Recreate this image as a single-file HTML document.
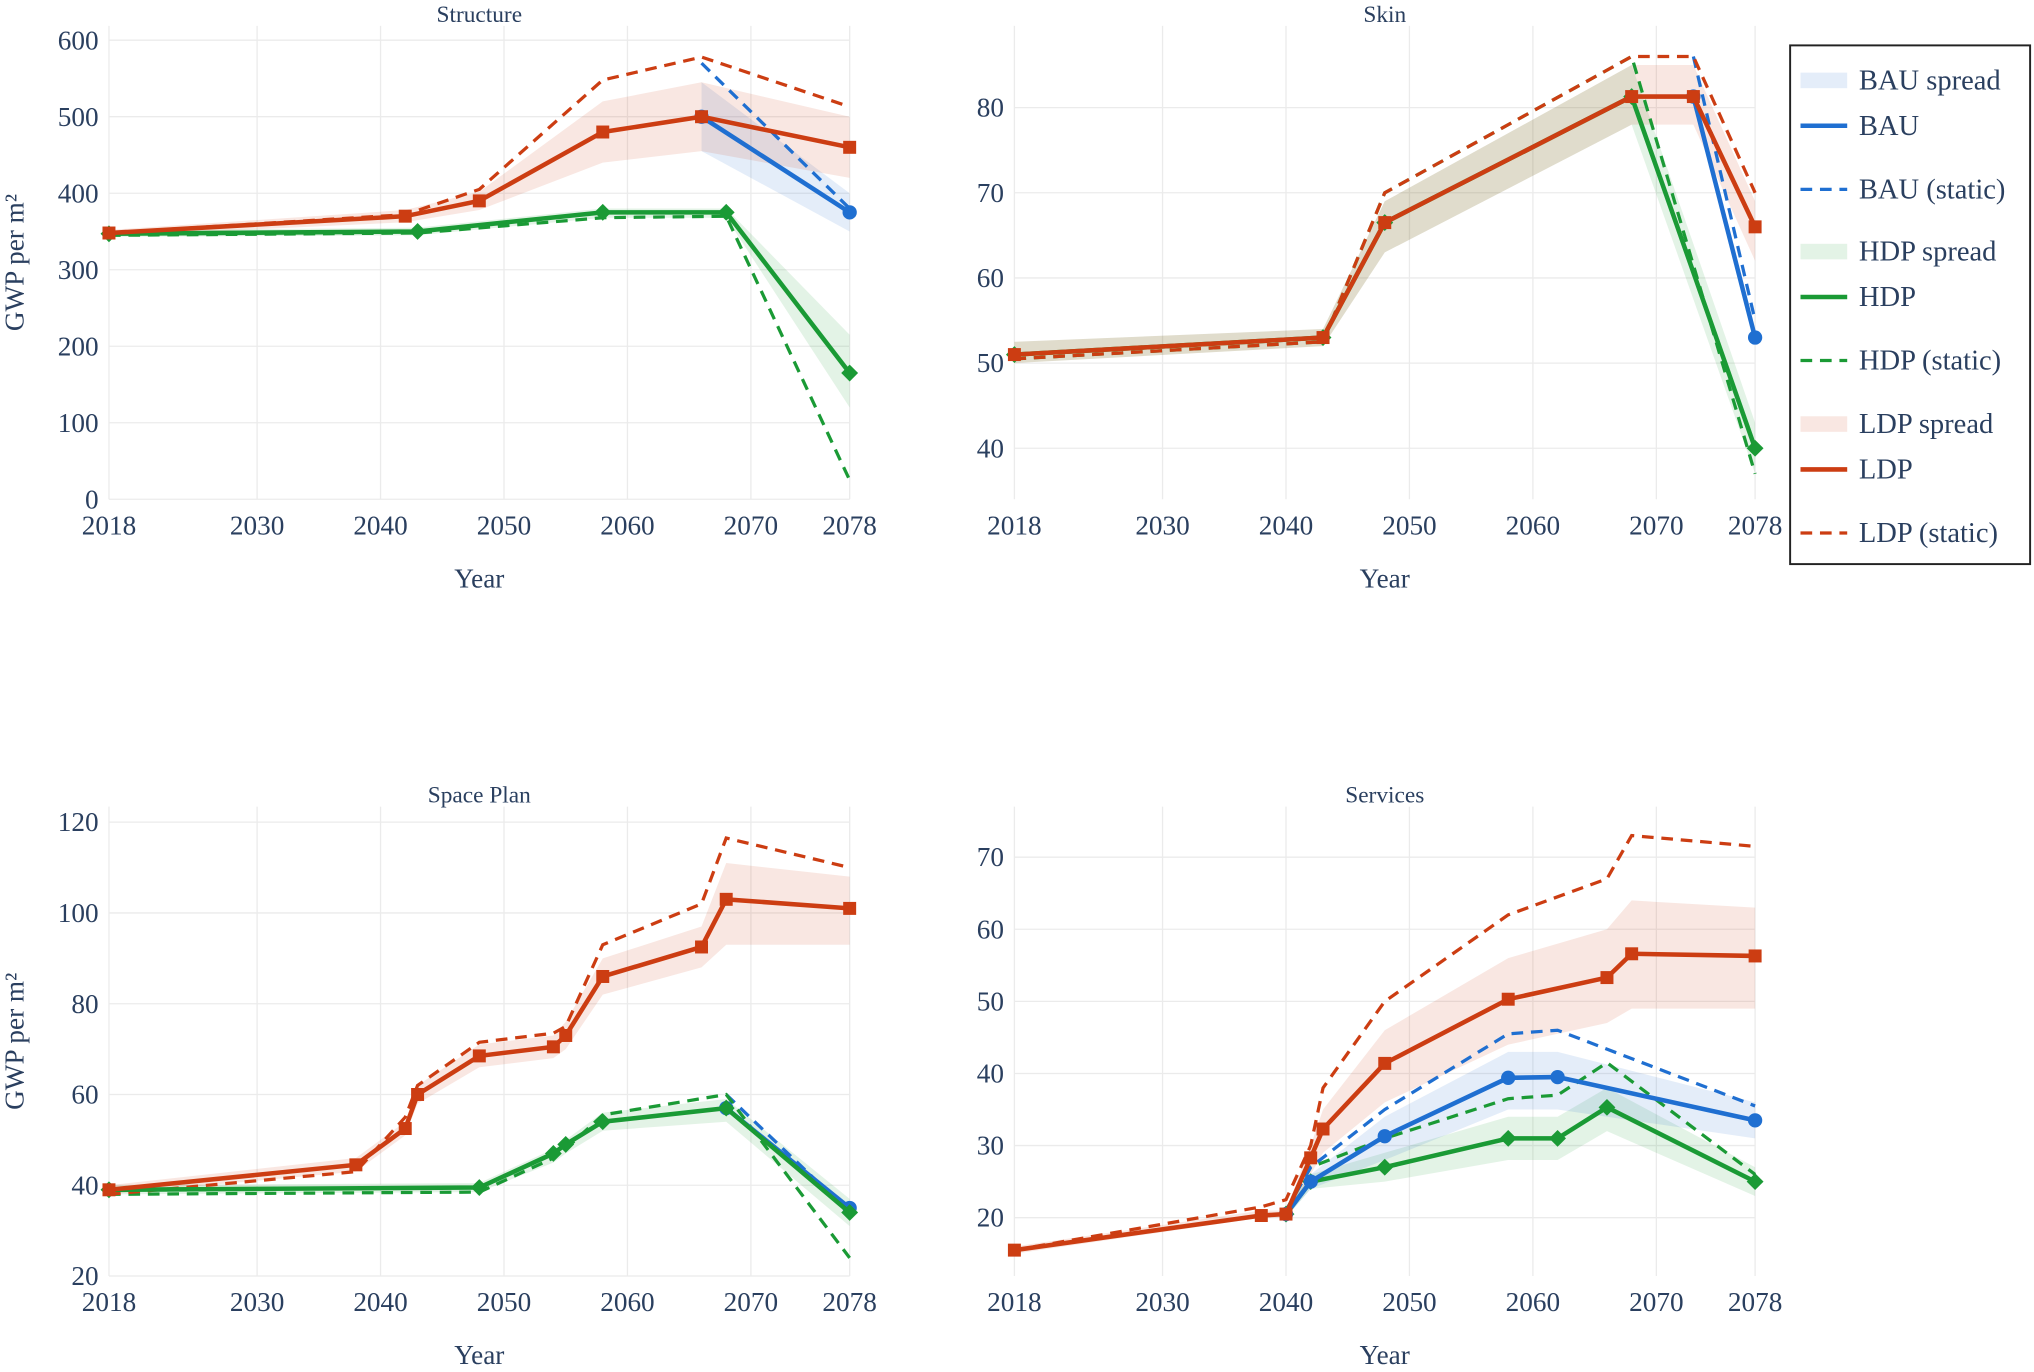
<!DOCTYPE html>
<html><head><meta charset="utf-8">
<style>
html,body{margin:0;padding:0;background:#fff;}
svg{display:block;}
text{font-family:"Liberation Serif",serif;fill:#2a3f5f;}
</style></head>
<body>
<svg id="chart" width="2034" height="1372" viewBox="0 0 1568 1058" preserveAspectRatio="none" xmlns="http://www.w3.org/2000/svg"></svg>
<script>
const structYears   = [2018,2042,2048,2058,2066,2078];
const structLDP     = [348,370,390,480,500,460];
const structLDPs    = [348,372,405,548,578,513];
const structLDPlo   = [344,362,378,440,455,420];
const structLDPhi   = [352,378,402,520,545,500];
const structBAUyrs  = [2066,2078];
const structBAU     = [500,375];
const structBAUs    = [570,380];
const structBAUlo   = [455,350];
const structBAUhi   = [545,400];
const structHDPyrs  = [2018,2043,2058,2068,2078];
const structHDP     = [347,350,375,375,165];
const structHDPs    = [345,348,368,370,25];
const structHDPlo   = [343,345,368,368,120];
const structHDPhi   = [351,355,380,380,215];

const skinYears  = [2018,2043,2048,2068,2073,2078];
const skinLDP    = [51,53,66.5,81.3,81.3,66];
const skinLDPs   = [50.5,52.5,70,86,86,70];
const skinLDPlo  = [50,52,63,78,78,62];
const skinLDPhi  = [52.5,54,69,85,85,69];
const skinBAUyrs = [2073,2078];
const skinBAU    = [81.3,53];
const skinBAUs   = [86,55];
const skinHDPyrs = [2018,2043,2048,2068,2078];
const skinHDP    = [51,53,66.5,81.3,40];
const skinHDPs   = [50.5,52.5,70,86,37];
const skinHDPlo  = [50,52,63,78,37];
const skinHDPhi  = [52.5,54,69,85,43];

const spaceYears  = [2018,2038,2042,2043,2048,2054,2055,2058,2066,2068,2078];
const spaceLDP    = [39,44.5,52.5,60,68.5,70.5,73,86,92.5,103,101];
const spaceLDPs   = [38,43,55,62,71.5,73.5,75,93,102,116.5,110];
const spaceLDPlo  = [38,43,51,58,66,68,70,82,88,93,93];
const spaceLDPhi  = [40,46,54,62,71,73,76,90,97,111,108];
const spaceHDPyrs = [2018,2048,2054,2055,2058,2068,2078];
const spaceHDP    = [39,39.5,47,49,54,57,34];
const spaceHDPs   = [38,38.5,46,48,55.5,60,24];
const spaceHDPlo  = [38,38.5,45,47,52,54,31];
const spaceHDPhi  = [40,40.5,48,50,56,59,37];
const spaceBAUyrs = [2068,2078];
const spaceBAU    = [57,35];
const spaceBAUs   = [60,34];

const servYears  = [2018,2038,2040,2042,2043,2048,2058,2066,2068,2078];
const servLDP    = [15.5,20.3,20.5,28.3,32.3,41.4,50.3,53.3,56.6,56.3];
const servLDPs   = [15.5,21.5,22.5,30,38,50,62,67,73,71.5];
const servLDPlo  = [15,20,20,26,29,36,44,47,49,49];
const servLDPhi  = [16,21,21,30,35,46,56,60,64,63];
const servBAUyrs = [2040,2042,2048,2058,2062,2078];
const servBAU    = [20.5,25,31.3,39.4,39.5,33.5];
const servBAUs   = [21,27,35,45.5,46,35.5];
const servBAUlo  = [20,24,28,35,35,31];
const servBAUhi  = [21,26,34,43,43,36];
const servHDPyrs = [2040,2042,2048,2058,2062,2066,2078];
const servHDP    = [20.5,25,27,31,31,35.3,25];
const servHDPs   = [21,27,31,36.5,37,41.5,26];
const servHDPlo  = [20,24,25,28,28,32,23];
const servHDPhi  = [21,26,29,34,34,38,27];

const xTicks = [2018,2030,2040,2050,2060,2070,2078];
const legendLabels = ['BAU spread','BAU','BAU (static)','HDP spread','HDP','HDP (static)','LDP spread','LDP','LDP (static)'];

const C = {BAU:'#1f6fd1', HDP:'#1a9a35', LDP:'#cc3d12'};
const F = {BAU:'rgba(31,111,209,0.12)', HDP:'rgba(26,154,53,0.12)', LDP:'rgba(204,61,18,0.12)'};
const NS='http://www.w3.org/2000/svg';
const svg=document.getElementById('chart');
function el(tag,attrs,parent){const e=document.createElementNS(NS,tag);for(const k in attrs)e.setAttribute(k,attrs[k]);(parent||svg).appendChild(e);return e;}

function panel(cfg){
  const g=el('g',{});
  
  
  const xs=v=>cfg.x0+(v-2018)*(cfg.x1-cfg.x0)/60;
  const ys=v=>cfg.p0+(v-cfg.v0)*(cfg.p1-cfg.p0)/(cfg.v1-cfg.v0);
  xTicks.forEach(t=>{el('line',{x1:xs(t),x2:xs(t),y1:cfg.top,y2:cfg.yb,stroke:'#ebebeb','stroke-width':1},g);
    const tx=el('text',{x:xs(t),y:cfg.yb+27,'text-anchor':'middle','font-size':21},g);tx.textContent=t;
    
    });
  cfg.yTicks.forEach(t=>{el('line',{x1:cfg.x0,x2:cfg.x1,y1:ys(t),y2:ys(t),stroke:'#ebebeb','stroke-width':1},g);
    const tx=el('text',{x:cfg.x0-8,y:ys(t)+7,'text-anchor':'end','font-size':21},g);tx.textContent=t;
    
    });
  const ti=el('text',{x:(cfg.x0+cfg.x1)/2,y:cfg.top-3,'text-anchor':'middle','font-size':18},g);ti.textContent=cfg.title;
  
  
  const xt=el('text',{x:(cfg.x0+cfg.x1)/2,y:cfg.yb+68,'text-anchor':'middle','font-size':21},g);xt.textContent='Year';
  
  
  if(cfg.ylab){const yt=el('text',{x:0,y:0,'text-anchor':'middle','font-size':21,transform:`translate(18,${(cfg.top+cfg.yb)/2}) rotate(-90)`},g);yt.textContent='GWP per m²';
    
    }
  cfg.series.forEach(s=>{ if(!s.lo) return;
    let d='M'+s.yrs.map((y,i)=>xs(y)+','+ys(s.hi[i])).join('L');
    d+='L'+s.yrs.map((y,i)=>xs(y)+','+ys(s.lo[i])).reverse().join('L')+'Z';
    const p=el('path',{d,fill:F[s.k],stroke:'none'},g);
    
    });
  cfg.series.forEach(s=>{
    const p=el('polyline',{points:s.yrs.map((y,i)=>xs(y)+','+ys(s.st[i])).join(' '),fill:'none',stroke:C[s.k],'stroke-width':2.5,'stroke-dasharray':'9,6'},g);
    
    });
  cfg.series.forEach(s=>{
    const p=el('polyline',{points:s.yrs.map((y,i)=>xs(y)+','+ys(s.v[i])).join(' '),fill:'none',stroke:C[s.k],'stroke-width':3.5},g);
    
    
    s.yrs.forEach((y,i)=>{const cx=xs(y),cy=ys(s.v[i]);let m;
      if(s.k==='LDP') m=el('rect',{x:cx-5,y:cy-5,width:10,height:10,fill:C.LDP},g);
      else if(s.k==='BAU') m=el('circle',{cx,cy,r:5.5,fill:C.BAU},g);
      else m=el('polygon',{points:`${cx},${cy-6.5} ${cx+6.5},${cy} ${cx},${cy+6.5} ${cx-6.5},${cy}`,fill:C.HDP},g);
      
      });
  });
}

panel({name:'structure-panel',title:'Structure',x0:84,x1:655,top:20,yb:385,v0:0,p0:385,v1:600,p1:31,yTicks:[0,100,200,300,400,500,600],ylab:true,
  series:[{k:'HDP',yrs:structHDPyrs,v:structHDP,st:structHDPs,lo:structHDPlo,hi:structHDPhi},
          {k:'BAU',yrs:structBAUyrs,v:structBAU,st:structBAUs,lo:structBAUlo,hi:structBAUhi},
          {k:'LDP',yrs:structYears,v:structLDP,st:structLDPs,lo:structLDPlo,hi:structLDPhi}]});
panel({name:'skin-panel',title:'Skin',x0:782,x1:1353,top:20,yb:385,v0:50,p0:280,v1:80,p1:83,yTicks:[40,50,60,70,80],ylab:false,
  series:[{k:'HDP',yrs:skinHDPyrs,v:skinHDP,st:skinHDPs,lo:skinHDPlo,hi:skinHDPhi},
          {k:'BAU',yrs:skinBAUyrs,v:skinBAU,st:skinBAUs},
          {k:'LDP',yrs:skinYears,v:skinLDP,st:skinLDPs,lo:skinLDPlo,hi:skinLDPhi}]});
panel({name:'space-plan-panel',title:'Space Plan',x0:84,x1:655,top:622,yb:984,v0:20,p0:984,v1:120,p1:634,yTicks:[20,40,60,80,100,120],ylab:true,
  series:[{k:'BAU',yrs:spaceBAUyrs,v:spaceBAU,st:spaceBAUs},
          {k:'HDP',yrs:spaceHDPyrs,v:spaceHDP,st:spaceHDPs,lo:spaceHDPlo,hi:spaceHDPhi},
          {k:'LDP',yrs:spaceYears,v:spaceLDP,st:spaceLDPs,lo:spaceLDPlo,hi:spaceLDPhi}]});
panel({name:'services-panel',title:'Services',x0:782,x1:1353,top:622,yb:984,v0:20,p0:939,v1:70,p1:661,yTicks:[20,30,40,50,60,70],ylab:false,
  series:[{k:'HDP',yrs:servHDPyrs,v:servHDP,st:servHDPs,lo:servHDPlo,hi:servHDPhi},
          {k:'BAU',yrs:servBAUyrs,v:servBAU,st:servBAUs,lo:servBAUlo,hi:servBAUhi},
          {k:'LDP',yrs:servYears,v:servLDP,st:servLDPs,lo:servLDPlo,hi:servLDPhi}]});

const lg=el('g',{});


el('rect',{x:1380,y:35,width:185,height:400,fill:'#fff',stroke:'#222','stroke-width':1.5},lg);
const legendRowY=[62,97,146,194,229,278,327,362,411];
legendLabels.forEach((lab,i)=>{
  const k=lab.slice(0,3); const y=legendRowY[i];
  const e=el('g',{},lg);
  
  
  if(lab.includes('spread')) el('rect',{x:1388,y:y-6,width:36,height:12,fill:F[k]},e);
  else if(lab.includes('static')) el('line',{x1:1388,x2:1424,y1:y,y2:y,stroke:C[k],'stroke-width':2.5,'stroke-dasharray':'9,6'},e);
  else el('line',{x1:1388,x2:1424,y1:y,y2:y,stroke:C[k],'stroke-width':3.5},e);
  const t=el('text',{x:1433,y:y+7,'font-size':22},e); t.textContent=lab;
});
</script>
</body></html>
